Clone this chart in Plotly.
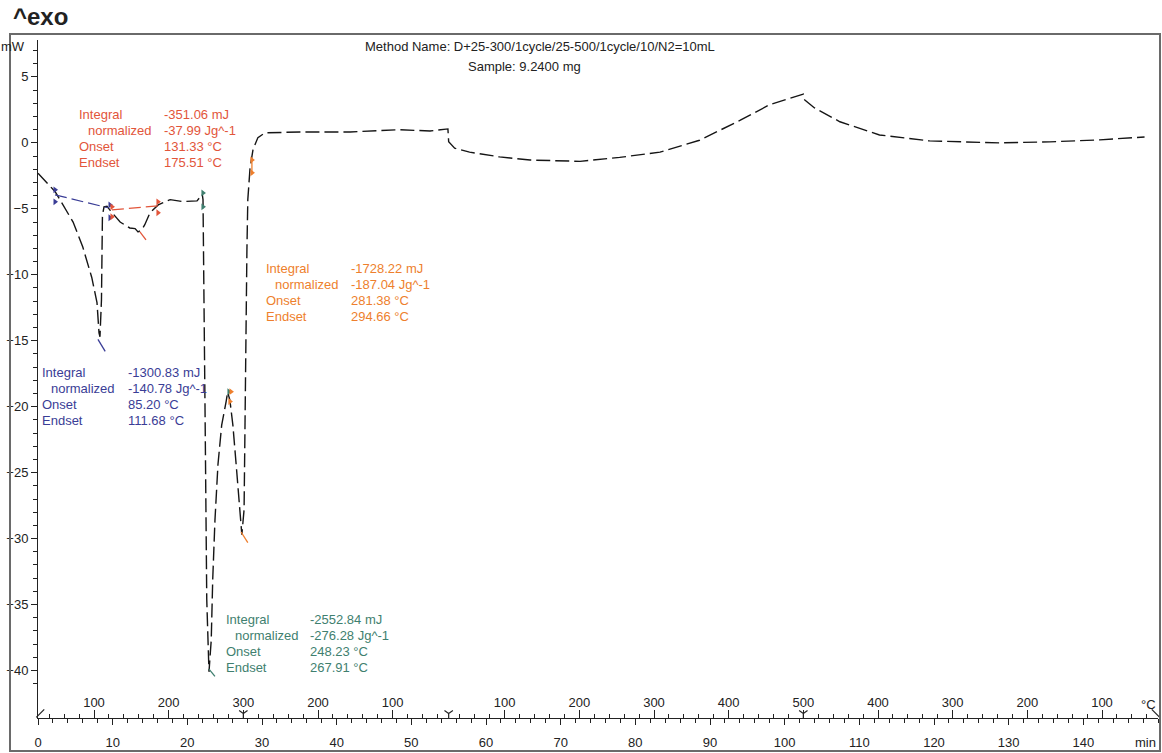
import plotly.graph_objects as go

# ---------------- data ----------------
time_min = [0, 2.3, 4.7, 6.0, 7.2, 7.9, 8.17, 8.3, 8.5, 8.63, 8.84, 9.24, 9.64, 11.0, 12.3, 13.0,
            13.4, 13.9, 14.3, 15.0, 16.1, 17.7, 19.4, 21.3, 22.0, 22.1, 22.36, 22.6, 22.9, 23.2,
            23.4, 23.7, 24.1, 24.6, 25.2, 25.4, 25.7, 26.1, 26.6, 27.0, 27.3, 27.6, 27.7, 27.85,
            27.98, 28.1, 28.4, 28.8, 29.45, 30.4, 35.1, 41.8, 48.5, 52.5, 54.9, 55.0, 55.8, 57.8,
            61.8, 65.9, 72.6, 77.9, 83.3, 88.6, 94.0, 98.0, 101.3, 102.5, 102.6, 104.0, 107.4,
            112.7, 119.4, 128.8, 135.5, 142.2, 148.2]
heat_flow_mw = [-2.3, -3.7, -6.0, -7.9, -10.2, -12.1, -14.4, -14.7, -11.9, -5.5, -4.85, -4.8, -5.1,
                -6.0, -6.45, -6.5, -6.75, -6.6, -6.2, -5.3, -4.7, -4.3, -4.45, -4.4, -3.9, -4.3,
                -19.5, -34.6, -40.1, -37.7, -33.1, -28.6, -24.4, -21.4, -19.6, -18.9, -19.5,
                -21.4, -24.8, -27.8, -29.7, -27.8, -21.0, -14.2, -8.1, -4.3, -1.9, -0.5, 0.4,
                0.76, 0.83, 0.83, 1.0, 0.9, 1.06, 0.08, -0.4, -0.7, -1.06, -1.3, -1.4, -1.1,
                -0.7, 0.2, 1.7, 2.9, 3.5, 3.7, 3.3, 2.65, 1.6, 0.6, 0.15, 0.0, 0.08, 0.23, 0.45]

# evaluation marks (time, mW)
blue_marks_t = [2.28, 2.28, 9.64, 9.64]
blue_marks_v = [-3.56, -4.47, -4.7, -5.68]
red_marks_t = [9.9, 9.9, 16.06, 16.06]
red_marks_v = [-4.85, -5.6, -4.47, -5.3]
teal_marks_t = [22.09, 22.09, 25.57]
teal_marks_v = [-3.79, -4.85, -18.86]
orange_marks_t = [28.65, 28.65, 25.84, 25.7]
orange_marks_v = [-1.29, -2.27, -18.86, -19.6]

blue_base_t = [2.28, 9.37]
blue_base_v = [-3.94, -4.92]
red_base_t = [9.9, 16.06]
red_base_v = [-5.08, -4.77]
blue_tan_t = [8.03, 9.0]
blue_tan_v = [-14.9, -15.8]
red_tan_t = [13.65, 14.46]
red_tan_v = [-6.74, -7.35]
teal_tan_t = [22.9, 23.7]
teal_tan_v = [-39.9, -40.45]
orange_tan_t = [27.2, 28.1]
orange_tan_v = [-29.5, -30.3]
orange_seg_t = [28.65, 28.65]
orange_seg_v = [-1.1, -2.4]

# time axis
time_ticks = list(range(0, 150, 10))
# temperature program: segments (start time, start T, end T) at 10 K/min
segments = [(0.0, 25, 300), (27.5, 300, 25), (55.0, 25, 500), (102.5, 500, 25)]
segment_marks_t = [27.5, 55.0, 102.5]

y_ticks = [5, 0, -5, -10, -15, -20, -25, -30, -35, -40]

# annotation text blocks
eval_labels = ["Integral", "normalized", "Onset", "Endset"]
red_values = ["-351.06 mJ", "-37.99 Jg^-1", "131.33 °C", "175.51 °C"]
orange_values = ["-1728.22 mJ", "-187.04 Jg^-1", "281.38 °C", "294.66 °C"]
blue_values = ["-1300.83 mJ", "-140.78 Jg^-1", "85.20 °C", "111.68 °C"]
teal_values = ["-2552.84 mJ", "-276.28 Jg^-1", "248.23 °C", "267.91 °C"]

method_text = "Method Name: D+25-300/1cycle/25-500/1cycle/10/N2=10mL"
sample_text = "Sample: 9.2400 mg"

# ---------------- derived temperature ticks ----------------
temp_major_t, temp_major_txt, temp_minor_t = [], [], []
for t0, Ta, Tb in segments:
    lo, hi = min(Ta, Tb), max(Ta, Tb)
    Ts = [T for T in range(40, hi + 1, 20) if lo < T <= hi]
    if Tb < Ta:
        Ts = [T for T in Ts if T < Ta]  # peak already labelled by heating segment
    for T in Ts:
        tt = t0 + abs(T - Ta) / 10.0
        if T % 100 == 0:
            temp_major_t.append(tt)
            temp_major_txt.append(str(T))
        else:
            temp_minor_t.append(tt)

# ---------------- figure ----------------
FONT = "Liberation Sans, Arial, sans-serif"
RED = "#E2553A"
ORANGE = "#EE7F2D"
BLUE = "#3A3D96"
TEAL = "#3F7F6F"

L, R, T_, B = 38, 4, 40, 35
W, H = 1162, 753
PW, PH = W - L - R, H - T_ - B
Y_RANGE = [-43.6, 7.8]


def px(x):
    return (x - L) / PW


def py(y):
    return (H - B - y) / PH


fig = go.Figure()

fig.add_trace(go.Scatter(x=time_min, y=heat_flow_mw, mode="lines",
                         line=dict(color="#151515", width=1.4, dash="14px,5px"),
                         hoverinfo="skip"))

for tx, vy, col in [(blue_base_t, blue_base_v, BLUE), (red_base_t, red_base_v, RED)]:
    fig.add_trace(go.Scatter(x=tx, y=vy, mode="lines",
                             line=dict(color=col, width=1.2, dash="12px,5px")))
for tx, vy, col in [(blue_tan_t, blue_tan_v, BLUE), (red_tan_t, red_tan_v, RED),
                    (teal_tan_t, teal_tan_v, TEAL), (orange_tan_t, orange_tan_v, ORANGE),
                    (orange_seg_t, orange_seg_v, ORANGE)]:
    fig.add_trace(go.Scatter(x=tx, y=vy, mode="lines", line=dict(color=col, width=1.3)))

for tx, vy, col in [(blue_marks_t, blue_marks_v, BLUE), (red_marks_t, red_marks_v, RED),
                    (teal_marks_t, teal_marks_v, TEAL), (orange_marks_t, orange_marks_v, ORANGE)]:
    fig.add_trace(go.Scatter(x=tx, y=vy, mode="markers",
                             marker=dict(color=col, size=6, symbol="triangle-right")))

# temperature segment marks on the axis line
fig.add_trace(go.Scatter(x=segment_marks_t, y=[Y_RANGE[0] + 0.35] * len(segment_marks_t),
                         mode="markers",
                         marker=dict(symbol="y-down-open", size=7, color="#222",
                                     line=dict(color="#222", width=1.2)),
                         cliponaxis=False))
fig.add_trace(go.Scatter(x=[0.3, 149.7], y=[Y_RANGE[0] + 0.35] * 2, mode="markers",
                         marker=dict(symbol=["line-ne-open", "line-nw-open"], size=8, color="#222",
                                     line=dict(color="#222", width=1.2)),
                         cliponaxis=False))
# invisible trace on the temperature axis
fig.add_trace(go.Scatter(x=[0, 150], y=[0, 0], xaxis="x2", mode="markers",
                         marker=dict(opacity=0), hoverinfo="skip"))

fig.update_layout(
    width=W, height=H,
    margin=dict(l=L, r=R, t=T_, b=B),
    paper_bgcolor="white", plot_bgcolor="white",
    showlegend=False,
    font=dict(family=FONT, size=13, color="#222"),
    xaxis=dict(range=[0, 150], tickmode="array", tickvals=time_ticks,
               ticks="outside", ticklen=6, tickcolor="#222", showline=True, linecolor="#222",
               linewidth=1, showgrid=False, zeroline=False, ticklabelstandoff=6,
               tickfont=dict(family=FONT, size=13, color="#222"),
               minor=dict(dtick=2, ticks="outside", ticklen=4, tickcolor="#222")),
    xaxis2=dict(range=[0, 150], overlaying="x", anchor="y", side="bottom",
                tickmode="array", tickvals=temp_major_t, ticktext=temp_major_txt,
                ticks="inside", ticklen=8, tickcolor="#222", ticklabelposition="inside",
                showline=False, showgrid=False, zeroline=False,
                tickfont=dict(family=FONT, size=13, color="#222"),
                minor=dict(tickmode="array", tickvals=temp_minor_t, ticks="inside",
                           ticklen=4, tickcolor="#222")),
    yaxis=dict(range=Y_RANGE, tickmode="array", tickvals=y_ticks,
               ticks="outside", ticklen=6, tickcolor="#222", showline=True, linecolor="#222",
               linewidth=1, showgrid=False, zeroline=False,
               tickfont=dict(family=FONT, size=13, color="#222"),
               minor=dict(dtick=1, ticks="outside", ticklen=4, tickcolor="#222")),
)

# outer frame
fig.add_shape(type="rect", xref="paper", yref="paper",
              x0=px(10), x1=px(1160), y0=py(751), y1=py(34),
              line=dict(color="#6a6a6a", width=2), layer="above")

ann = []


def text(x, y, s, col="#222", size=13, anchor="left", bold=False):
    ann.append(dict(xref="paper", yref="paper", x=px(x), y=py(y), text=("<b>%s</b>" % s) if bold else s,
                    showarrow=False, xanchor=anchor, yanchor="middle",
                    font=dict(family=FONT, size=size, color=col)))


text(11, 17, "^exo", size=24, bold=True)
text(27, 47, "mW", anchor="right")
text(363, 47, method_text)
text(466, 67, sample_text)
text(1145, 742, "min", anchor="center")
text(1148, 704, "°C", anchor="center")

blocks = [(RED, red_values, 77, 162, 115),
          (ORANGE, orange_values, 264, 349, 268),
          (BLUE, blue_values, 40, 126, 372),
          (TEAL, teal_values, 224, 308, 619)]
for col, vals, xl, xv, y0 in blocks:
    for i, (lab, val) in enumerate(zip(eval_labels, vals)):
        yy = y0 + i * 16
        text(xl + (9 if i == 1 else 0), yy, lab, col=col)
        text(xv, yy, val, col=col)

fig.update_layout(annotations=ann)
fig.write_html("out.html")
